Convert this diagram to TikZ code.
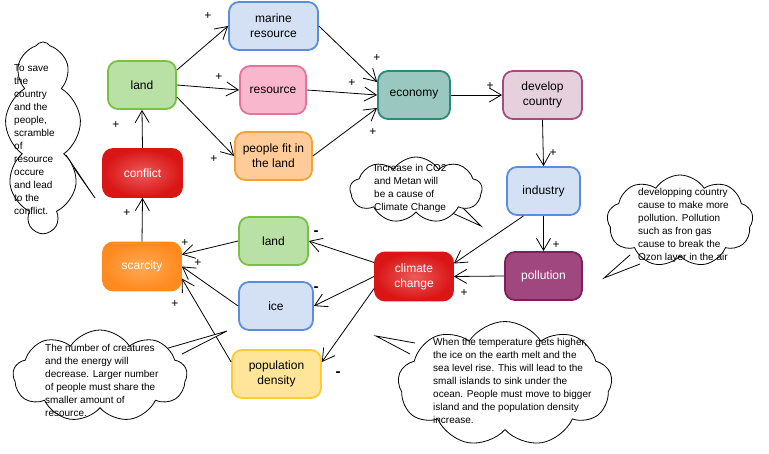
\documentclass[tikz,border=0pt]{standalone}
\usepackage{fontspec}
\setmainfont{Liberation Sans}
\usetikzlibrary{arrows.meta,shapes.symbols,calc}
\definecolor{bluef}{HTML}{D4E1F5}\definecolor{blued}{HTML}{5A8EDA}
\definecolor{greenf}{HTML}{B9E0A5}\definecolor{greend}{HTML}{7AC143}
\definecolor{pinkf}{HTML}{F8B7CD}\definecolor{pinkd}{HTML}{E8739A}
\definecolor{orangef}{HTML}{FFCC99}\definecolor{oranged}{HTML}{F6A236}
\definecolor{tealf}{HTML}{9AC7BF}\definecolor{teald}{HTML}{2D8A74}
\definecolor{plumf}{HTML}{E6D0DE}\definecolor{plumd}{HTML}{9E4E80}
\definecolor{purf}{HTML}{A04780}\definecolor{purd}{HTML}{7E1F5E}
\definecolor{yelf}{HTML}{FFE599}\definecolor{yeld}{HTML}{FFCB33}
\definecolor{redin}{HTML}{EC5A5A}\definecolor{redout}{HTML}{D91515}
\definecolor{orin}{HTML}{FFAA55}\definecolor{orout}{HTML}{FF8A1F}
\begin{document}
\begin{tikzpicture}[x=1pt,y=-1pt,
  box/.style={rounded corners=10pt, line width=1.8pt, minimum height=48pt, align=center,
    font=\fontsize{12}{15}\selectfont, inner sep=2pt},
  arr/.style={-{Straight Barb[length=12pt,width=14pt]}, line width=0.8pt},
  sign/.style={font=\fontsize{12}{12}\selectfont, inner sep=0},
  minus/.style={font=\fontsize{15}{15}\selectfont\bfseries, inner sep=0},
  cl/.style={cloud, draw, fill=white, cloud puffs=9, cloud puff arc=115, cloud ignores aspect,
    line width=0.8pt, inner sep=0},
  ctext/.style={font=\fontsize{10}{13}\selectfont, align=left, inner sep=0, anchor=north west},
  tail/.style={draw, fill=white, line width=0.8pt}]
\useasboundingbox (0,0) rectangle (769,453);

% nodes
\node[box, draw=blued, fill=bluef, minimum width=89pt] (marine) at (273.5,26) {marine\\resource};
\node[box, draw=greend, fill=greenf, minimum width=68pt] (land) at (142,85) {land};
\node[box, draw=pinkd, fill=pinkf, minimum width=66pt] (resource) at (273,90) {resource};
\node[box, draw=oranged, fill=orangef, minimum width=77pt] (people) at (273.5,156) {people fit in\\the land};
\node[box, draw=teald, fill=tealf, minimum width=72pt] (economy) at (414,95) {economy};
\node[box, draw=plumd, fill=plumf, minimum width=79pt] (develop) at (542.5,95) {develop\\country};
\node[box, draw=redout, shading=radial, inner color=redin, outer color=redout, text=white, minimum width=79pt] (conflict) at (142.5,173) {conflict};
\node[box, draw=blued, fill=bluef, minimum width=73pt] (industry) at (543.5,191) {industry};
\node[box, draw=greend, fill=greenf, minimum width=69pt] (land2) at (273.5,241) {land};
\node[box, draw=orout, shading=radial, inner color=orin, outer color=orout, text=white, minimum width=78pt] (scarcity) at (142,266.5) {scarcity};
\node[box, draw=blued, fill=bluef, minimum width=74pt] (ice) at (276,306) {ice};
\node[box, draw=yeld, fill=yelf, minimum width=89pt] (pop) at (276.5,374) {population\\density};
\node[box, draw=redout, shading=radial, inner color=redin, outer color=redout, text=white, minimum width=78pt] (climate) at (414,276.5) {climate\\change};
\node[box, draw=purd, fill=purf, text=white, minimum width=77pt] (pollution) at (543.5,276) {pollution};

% connectors
\draw[arr] ([yshift=15pt]land.east) -- (marine.west);
\draw[arr] (land.east) -- (resource.west);
\draw[arr] ([yshift=-12pt]land.east) -- (people.west);
\draw[arr] (conflict.north) -- (land.south);
\draw[arr] (marine.east) -- ([yshift=13pt]economy.west);
\draw[arr] (resource.east) -- (economy.west);
\draw[arr] (people.east) -- ([yshift=-13pt]economy.west);
\draw[arr] (economy.east) -- (develop.west);
\draw[arr] (develop.south) -- (industry.north);
\draw[arr] ([xshift=-20pt]industry.south) -- ([yshift=13pt]climate.east);
\draw[arr] (industry.south) -- (pollution.north);
\draw[arr] (pollution.west) -- (climate.east);
\draw[arr] ([yshift=14pt]climate.west) -- (land2.east);
\draw[arr] (climate.west) -- (ice.east);
\draw[arr] ([yshift=-12pt]climate.west) -- ([yshift=12pt]pop.east);
\draw[arr] (land2.west) -- ([yshift=12pt]scarcity.east);
\draw[arr] (ice.west) -- (scarcity.east);
\draw[arr] ([yshift=12pt]pop.west) -- ([yshift=-12pt]scarcity.east);
\draw[arr] (scarcity.north) -- (conflict.south);

% signs
\node[sign] (s1) at (208,16) {+};
\node[sign] (s2) at (219,77) {+};
\node[sign] (s3) at (214,159) {+};
\node[sign] (s4) at (116,125) {+};
\node[sign] (s5) at (377,58) {+};
\node[sign] (s6) at (352,83) {+};
\node[sign] (s7) at (373,132) {+};
\node[sign] (s8) at (490,86) {+};
\node[sign] (s9) at (553,153) {+};
\node[sign] (s10) at (556,245) {+};
\node[sign] (s11) at (464,293) {+};
\node[sign] (s12) at (127,213) {+};
\node[sign] (s13) at (185,243) {+};
\node[sign] (s14) at (198,263) {+};
\node[sign] (s15) at (175,304) {+};
\node[minus] (m1) at (316,233) {-};
\node[minus] (m2) at (316,289) {-};
\node[minus] (m3) at (338,374) {-};

% callouts
\coordinate (t1) at (95,198);
\draw[tail] (66,155) -- (t1) -- (74,168);
\node[cl, minimum width=76pt, minimum height=190pt] (c1) at (43,137) {};
\node[ctext] (c1t) at (14,64) {To save\\the\\country\\and the\\people,\\scramble\\of\\resource\\occure\\and lead\\to the\\conflict.};

\coordinate (t2) at (481,226);
\draw[tail] (450,212) -- (t2) -- (462,207);
\node[cl, minimum width=132pt, minimum height=66pt] (c2) at (416,190) {};
\node[ctext] (c2t) at (374,164) {Increase in CO2\\and Metan will\\be a cause of\\Climate Change};

\coordinate (t3) at (604,278);
\draw[tail] (630,255) -- (t3) -- (640,264);
\node[cl, minimum width=146pt, minimum height=92pt] (c3) at (680,221) {};
\node[ctext] (c3t) at (638,188) {developping country\\cause to make more\\pollution. Pollution\\such as fron gas\\cause to break the\\Ozon layer in the air};

\coordinate (t4) at (227,331);
\draw[tail] (165,349) -- (t4) -- (182,354);
\node[cl, minimum width=174pt, minimum height=92pt] (c4) at (100,376) {};
\node[ctext] (c4t) at (45,344) {The number of creatures\\and the energy will\\decrease. Larger number\\of people must share the\\smaller amount of\\resource.};

\coordinate (t5) at (376,336);
\draw[tail] (415,343) -- (t5) -- (410,354);
\node[cl, minimum width=214pt, minimum height=125pt] (c5) at (505,384) {};
\node[ctext] (c5t) at (433,338) {When the temperature gets higher,\\the ice on the earth melt and the\\sea level rise. This will lead to the\\small islands to sink under the\\ocean. People must move to bigger\\island and the population density\\increase.};
\end{tikzpicture}
\end{document}
